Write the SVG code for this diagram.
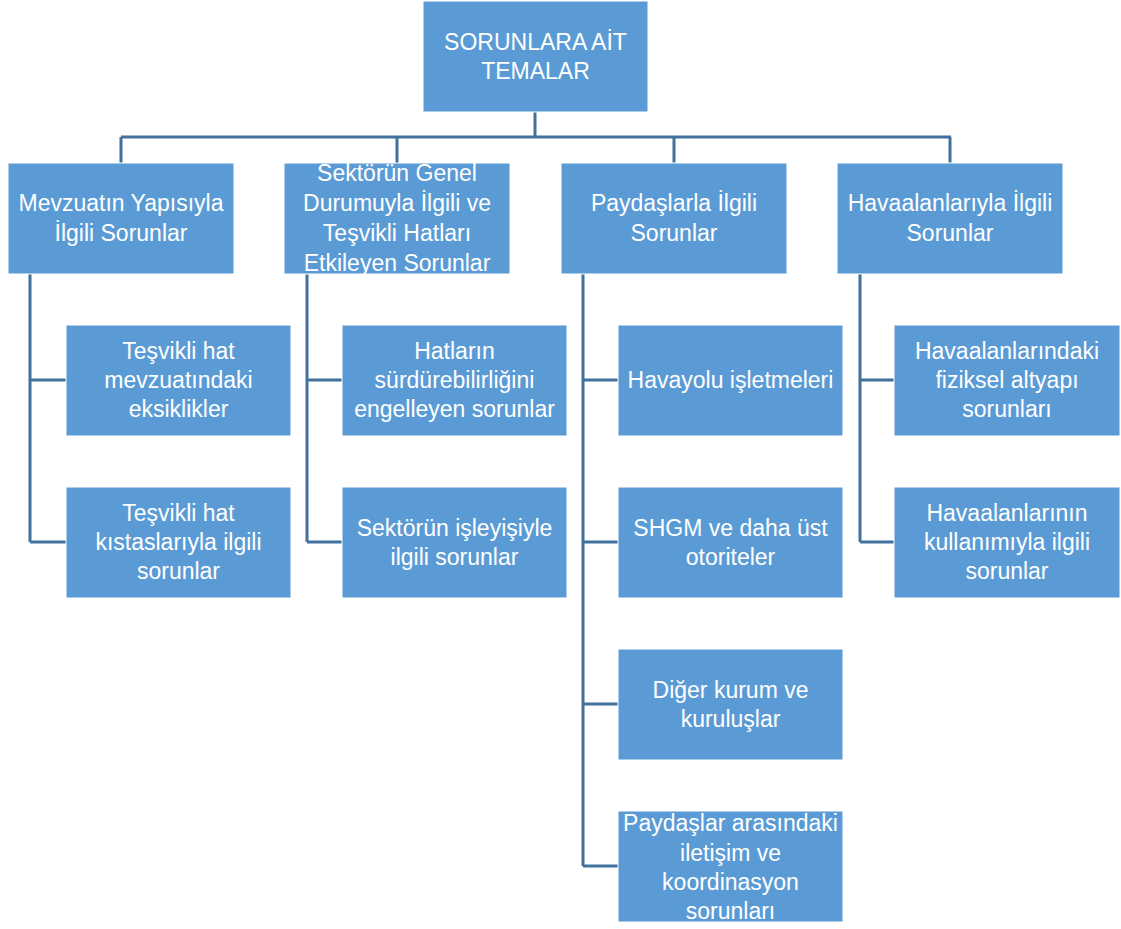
<svg xmlns="http://www.w3.org/2000/svg" width="1121" height="929" viewBox="0 0 1121 929">
  <style>
    .box { fill: #5B9BD5; stroke: #ffffff; stroke-width: 1; }
    .lbl { font-family: "Liberation Sans", Arial, sans-serif; font-size: 23px; fill: #ffffff; text-anchor: middle; }
    .link { fill: none; stroke: #41719C; stroke-width: 3; }
  </style>
  <rect width="1121" height="929" fill="#ffffff"/>

  <!-- connectors -->
  <g id="connectors">
    <path class="link" d="M535,112 V137 M121,137 H951 M121,137 V163 M397,137 V163 M674,137 V163 M950,137 V163"/>
    <path class="link" d="M30,274 V542 M30,380 H66 M30,542 H66"/>
    <path class="link" d="M307,274 V542 M307,380 H342 M307,542 H342"/>
    <path class="link" d="M583,274 V866 M583,380 H618 M583,542 H618 M583,704 H618 M583,866 H618"/>
    <path class="link" d="M860,274 V542 M860,380 H894 M860,542 H894"/>
  </g>

  <g id="root">
    <rect class="box" x="423" y="1" width="225" height="111"/>
    <text class="lbl" x="535.5" y="50">SORUNLARA AİT</text>
    <text class="lbl" x="535.5" y="79">TEMALAR</text>
  </g>

  <g id="mevzuat">
    <rect class="box" x="8" y="163" width="226" height="111"/>
    <text class="lbl" x="121" y="211">Mevzuatın Yapısıyla</text>
    <text class="lbl" x="121" y="241">İlgili Sorunlar</text>
  </g>
  <g id="sektor">
    <rect class="box" x="284" y="163" width="226" height="111"/>
    <text class="lbl" x="397" y="181">Sektörün Genel</text>
    <text class="lbl" x="397" y="211">Durumuyla İlgili ve</text>
    <text class="lbl" x="397" y="241">Teşvikli Hatları</text>
    <text class="lbl" x="397" y="271">Etkileyen Sorunlar</text>
  </g>
  <g id="paydas">
    <rect class="box" x="561" y="163" width="226" height="111"/>
    <text class="lbl" x="674" y="211">Paydaşlarla İlgili</text>
    <text class="lbl" x="674" y="241">Sorunlar</text>
  </g>
  <g id="havaalani">
    <rect class="box" x="837" y="163" width="226" height="111"/>
    <text class="lbl" x="950" y="211">Havaalanlarıyla İlgili</text>
    <text class="lbl" x="950" y="241">Sorunlar</text>
  </g>

  <g id="mevzuat-eksiklik">
    <rect class="box" x="66" y="325" width="225" height="111"/>
    <text class="lbl" x="178.5" y="359">Teşvikli hat</text>
    <text class="lbl" x="178.5" y="388">mevzuatındaki</text>
    <text class="lbl" x="178.5" y="417">eksiklikler</text>
  </g>
  <g id="kistas">
    <rect class="box" x="66" y="487" width="225" height="111"/>
    <text class="lbl" x="178.5" y="521">Teşvikli hat</text>
    <text class="lbl" x="178.5" y="550">kıstaslarıyla ilgili</text>
    <text class="lbl" x="178.5" y="579">sorunlar</text>
  </g>

  <g id="surdurulebilirlik">
    <rect class="box" x="342" y="325" width="225" height="111"/>
    <text class="lbl" x="454.5" y="359">Hatların</text>
    <text class="lbl" x="454.5" y="388">sürdürebilirliğini</text>
    <text class="lbl" x="454.5" y="417">engelleyen sorunlar</text>
  </g>
  <g id="isleyis">
    <rect class="box" x="342" y="487" width="225" height="111"/>
    <text class="lbl" x="454.5" y="536">Sektörün işleyişiyle</text>
    <text class="lbl" x="454.5" y="565">ilgili sorunlar</text>
  </g>

  <g id="havayolu">
    <rect class="box" x="618" y="325" width="225" height="111"/>
    <text class="lbl" x="730.5" y="388">Havayolu işletmeleri</text>
  </g>
  <g id="shgm">
    <rect class="box" x="618" y="487" width="225" height="111"/>
    <text class="lbl" x="730.5" y="536">SHGM ve daha üst</text>
    <text class="lbl" x="730.5" y="565">otoriteler</text>
  </g>
  <g id="diger">
    <rect class="box" x="618" y="649" width="225" height="111"/>
    <text class="lbl" x="730.5" y="698">Diğer kurum ve</text>
    <text class="lbl" x="730.5" y="727">kuruluşlar</text>
  </g>
  <g id="iletisim">
    <rect class="box" x="618" y="811" width="225" height="111"/>
    <text class="lbl" x="730.5" y="831">Paydaşlar arasındaki</text>
    <text class="lbl" x="730.5" y="861">iletişim ve</text>
    <text class="lbl" x="730.5" y="890">koordinasyon</text>
    <text class="lbl" x="730.5" y="919">sorunları</text>
  </g>

  <g id="fiziksel">
    <rect class="box" x="894" y="325" width="226" height="111"/>
    <text class="lbl" x="1007" y="359">Havaalanlarındaki</text>
    <text class="lbl" x="1007" y="388">fiziksel altyapı</text>
    <text class="lbl" x="1007" y="417">sorunları</text>
  </g>
  <g id="kullanim">
    <rect class="box" x="894" y="487" width="226" height="111"/>
    <text class="lbl" x="1007" y="521">Havaalanlarının</text>
    <text class="lbl" x="1007" y="550">kullanımıyla ilgili</text>
    <text class="lbl" x="1007" y="579">sorunlar</text>
  </g>
</svg>
